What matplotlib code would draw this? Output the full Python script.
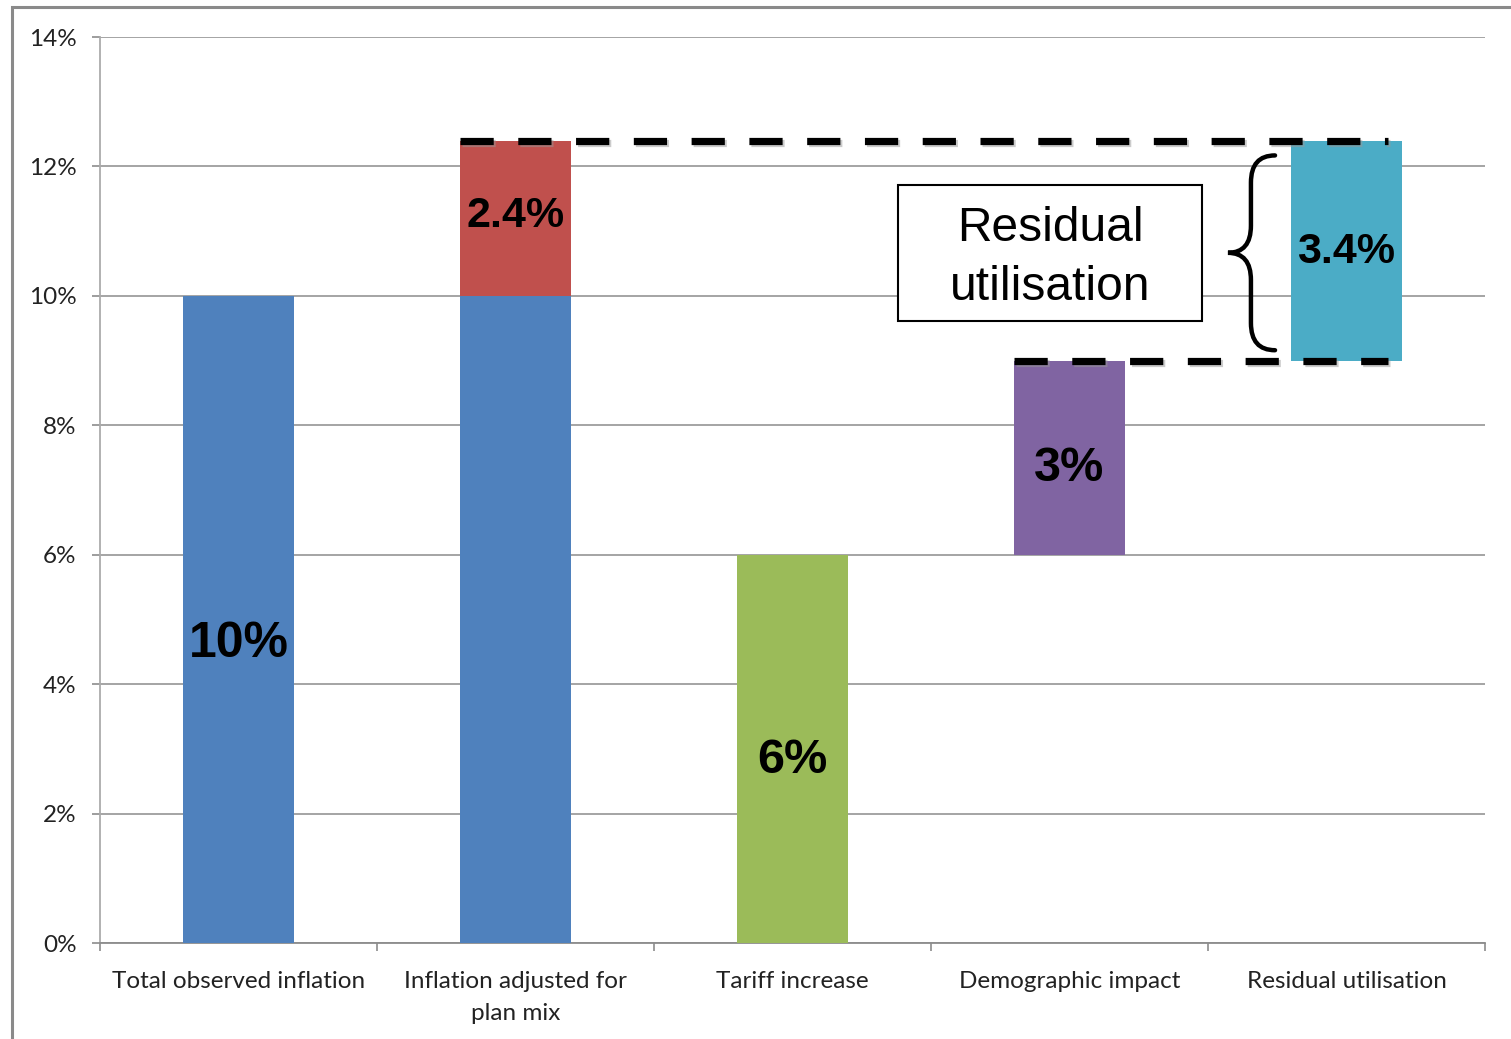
import matplotlib
matplotlib.use("Agg")
import matplotlib.pyplot as plt
from matplotlib.patches import Rectangle, PathPatch
from matplotlib.path import Path
import matplotlib.patheffects as pe

# Waterfall decomposition of observed inflation
categories = ["Total observed inflation", "Inflation adjusted for\nplan mix",
              "Tariff increase", "Demographic impact", "Residual utilisation"]
bar_bottoms = [0.0, 0.0, 0.0, 6.0, 9.0]
bar_values = [10.0, 10.0, 6.0, 3.0, 3.4]
plan_mix_step = 2.4          # stacked on top of the second bar
bar_colors = ["#4F81BD", "#4F81BD", "#9BBB59", "#8064A2", "#4BACC6"]
step_color = "#C0504D"
value_labels = ["10%", None, "6%", "3%", "3.4%"]
step_label = "2.4%"
y_ticks = [0, 2, 4, 6, 8, 10, 12, 14]

fig = plt.figure(figsize=(15.11, 10.39), dpi=100)
ax = fig.add_axes([100 / 1511, 96 / 1039, 1385 / 1511, 906 / 1039])

x = list(range(len(categories)))
width = 0.4
ax.bar(x, bar_values, bottom=bar_bottoms, width=width, color=bar_colors,
       zorder=3, linewidth=0)
ax.bar([1], [plan_mix_step], bottom=[bar_values[1]], width=width,
       color=step_color, zorder=3, linewidth=0)

label_font = dict(family="Liberation Sans", weight="bold", color="black",
                  ha="center", va="center", zorder=6)
label_y = [4.62, None, 2.82, 7.33, 10.67]
label_size = [36, None, 35, 35, 31]
for i, lab in enumerate(value_labels):
    if lab:
        ax.text(x[i], label_y[i], lab, fontsize=label_size[i], **label_font)
ax.text(1, bar_values[1] + plan_mix_step / 2 + 0.04, step_label,
        fontsize=31, **label_font)

# Axes styling
ax.set_xlim(-0.5, len(categories) - 0.5)
ax.set_ylim(0, 14)
ax.set_yticks(y_ticks)
ax.set_yticklabels([f"{t}%" for t in y_ticks])
ax.yaxis.grid(True, color="#8C8C8C", linewidth=1.1, zorder=0)
ax.set_axisbelow(True)
for s in ["top", "right"]:
    ax.spines[s].set_visible(False)
ax.spines["left"].set_color("#ABABAB")
ax.spines["left"].set_linewidth(1.3)
ax.spines["bottom"].set_color("#8C8C8C")
ax.spines["bottom"].set_linewidth(1.3)

ax.set_xticks([i - 0.5 for i in range(len(categories) + 1)])
ax.set_xticklabels([])
ax.set_xticks(x, minor=True)
ax.set_xticklabels(categories, minor=True, fontsize=17.5, family="Lato",
                   color="#222222", linespacing=1.6)
ax.tick_params(axis="x", which="major", length=6, color="#8C8C8C", width=1.2)
ax.tick_params(axis="x", which="minor", length=0, pad=20.5)
ax.tick_params(axis="y", length=6, color="#8C8C8C", width=1.2,
               labelsize=17.5, labelcolor="#222222", pad=11)
for t in ax.get_yticklabels():
    t.set_family("Lato")

# Dashed reference lines across the waterfall
shadow = [pe.SimpleLineShadow(offset=(1.5, -1.5), shadow_color="#999999",
                              alpha=0.5), pe.Normal()]
dash_kw = dict(color="black", linewidth=5.2, linestyle=(0, (4.6, 3.4)),
               dash_capstyle="butt", zorder=5, path_effects=shadow)
top_level = bar_values[1] + plan_mix_step
low_level = bar_bottoms[4]
ax.plot([1 - width / 2, 4.15], [top_level, top_level], **dash_kw)
ax.plot([3 - width / 2, 4.15], [low_level, low_level], **dash_kw)

# Curly brace marking the residual
xt, xm, xe = 3.572, 3.655, 3.742
yt, yb = 12.17, 9.16
ym = (yt + yb) / 2
d = 0.42
verts = [(xe, yt), (xm, yt), (xm, yt - d),
         (xm, ym + d),
         (xm, ym), (xt, ym),
         (xm, ym), (xm, ym - d),
         (xm, yb + d),
         (xm, yb), (xe, yb)]
codes = [Path.MOVETO, Path.CURVE3, Path.CURVE3,
         Path.LINETO,
         Path.CURVE3, Path.CURVE3,
         Path.CURVE3, Path.CURVE3,
         Path.LINETO,
         Path.CURVE3, Path.CURVE3]
ax.add_patch(PathPatch(Path(verts, codes), facecolor="none", edgecolor="black",
                       linewidth=3.2, zorder=6, capstyle="round"))

# Callout box
bx0, bx1, by0, by1 = 2.381, 3.478, 9.61, 11.71
ax.add_patch(Rectangle((bx0, by0), bx1 - bx0, by1 - by0, facecolor="white",
                       edgecolor="black", linewidth=1.5, zorder=6))
ax.text((bx0 + bx1) / 2, (by0 + by1) / 2 - 0.08, "Residual\nutilisation",
        fontsize=34.5, family="Liberation Sans", ha="center", va="center",
        linespacing=1.4, zorder=7)

# Outer frame
fig.add_artist(Rectangle((12 / 1511, -0.1), 1.2, 1 - 7 / 1039 + 0.1,
                         transform=fig.transFigure, facecolor="none",
                         edgecolor="#8A8A8A", linewidth=2.2))

fig.savefig("out.png", dpi=100)
